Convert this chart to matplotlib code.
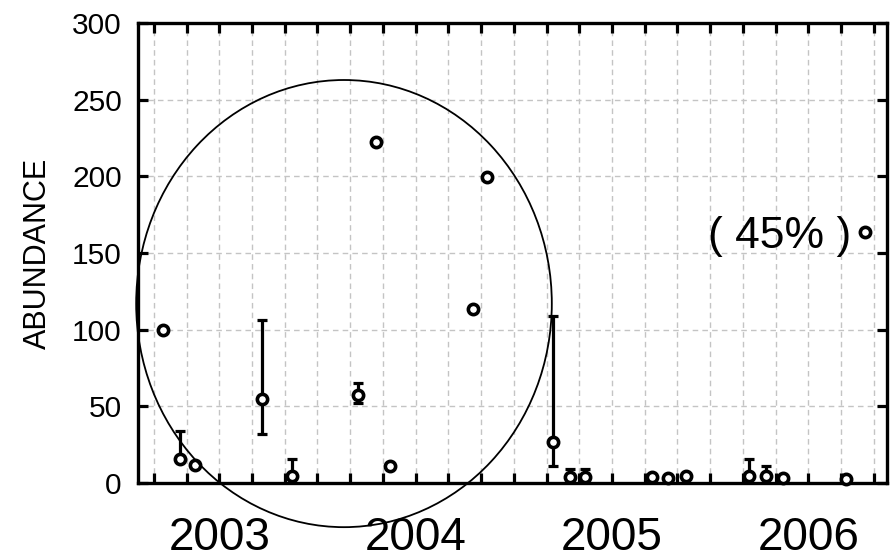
import numpy as np
import matplotlib
matplotlib.use("Agg")
import matplotlib.pyplot as plt
from matplotlib.patches import Ellipse

plt.rcParams['font.family'] = ['Liberation Sans', 'DejaVu Sans']

# months counted from Jan 2003
months = [-3.46, -2.40, -1.49, 2.59, 4.46, 8.50, 9.58, 10.43, 15.53, 16.34, 20.42,
          21.44, 22.36, 26.43, 27.45, 28.53, 32.40, 33.42, 34.47, 38.29, 39.47]
abundance = [100, 15.5, 11.7, 54.6, 4.8, 57.4, 222.2, 11.1, 113.3, 199.4, 27,
             3.7, 3.7, 4.1, 3.0, 4.8, 4.8, 4.8, 3.0, 2.6, 163.5]
# lower / upper ends of the bars (nan = no bar)
bar_low = [np.nan, 15.5, np.nan, 31.7, 4.8, 52, np.nan, np.nan, np.nan, np.nan, 11.1,
           3.7, 3.7, np.nan, np.nan, np.nan, 4.8, 4.8, np.nan, np.nan, np.nan]
bar_high = [np.nan, 34, np.nan, 106, 15.6, 65.4, np.nan, np.nan, np.nan, np.nan, 109,
            9, 9, np.nan, np.nan, np.nan, 15.6, 11, np.nan, np.nan, np.nan]

year_labels = ['2003', '2004', '2005', '2006']
year_months = [0, 12, 24, 36]
y_ticks = [0, 50, 100, 150, 200, 250, 300]

fig = plt.figure(figsize=(8.95, 5.6), dpi=100)
ax = fig.add_axes([0.1547, 0.1375, 0.8363, 0.8215])

x = np.array(months)
y = np.array(abundance)
lo = np.array(bar_low)
hi = np.array(bar_high)
has_bar = ~np.isnan(hi)
ax.errorbar(x[has_bar], y[has_bar],
            yerr=[y[has_bar] - lo[has_bar], hi[has_bar] - y[has_bar]],
            fmt='none', ecolor='black', elinewidth=2.3, capsize=3.6, capthick=2.3, zorder=3)
ax.plot(x, y, 'o', ms=7.4, mfc='white', mec='black', mew=2.6, zorder=4, clip_on=False)

ax.set_xlim(-4.94, 40.8)
ax.set_ylim(0, 300)

ticks = np.arange(-4, 41, 2)
ax.set_xticks(ticks)
ax.set_xticklabels([year_labels[year_months.index(t)] if t in year_months else '' for t in ticks])
ax.set_yticks(y_ticks)

ax.tick_params(axis='both', direction='in', length=7, width=2.3,
               top=True, right=True, color='black')
ax.tick_params(axis='x', labelsize=33, pad=24)
ax.tick_params(axis='y', labelsize=21.5, pad=12)

for s in ax.spines.values():
    s.set_linewidth(2.4)

ax.grid(True, color='#c4c4c4', linestyle=(0, (4, 3)), linewidth=1)
ax.set_axisbelow(True)

ax.set_ylabel('ABUNDANCE', fontsize=22, labelpad=14)

ax.text(38.6, 161, '( 45% )', fontsize=32, ha='right', va='center')

ell = Ellipse((7.62, 117), width=25.4, height=291.6, fill=False,
              edgecolor='black', linewidth=1.3, clip_on=False, zorder=5)
ax.add_patch(ell)

fig.savefig('out.png', dpi=100)
